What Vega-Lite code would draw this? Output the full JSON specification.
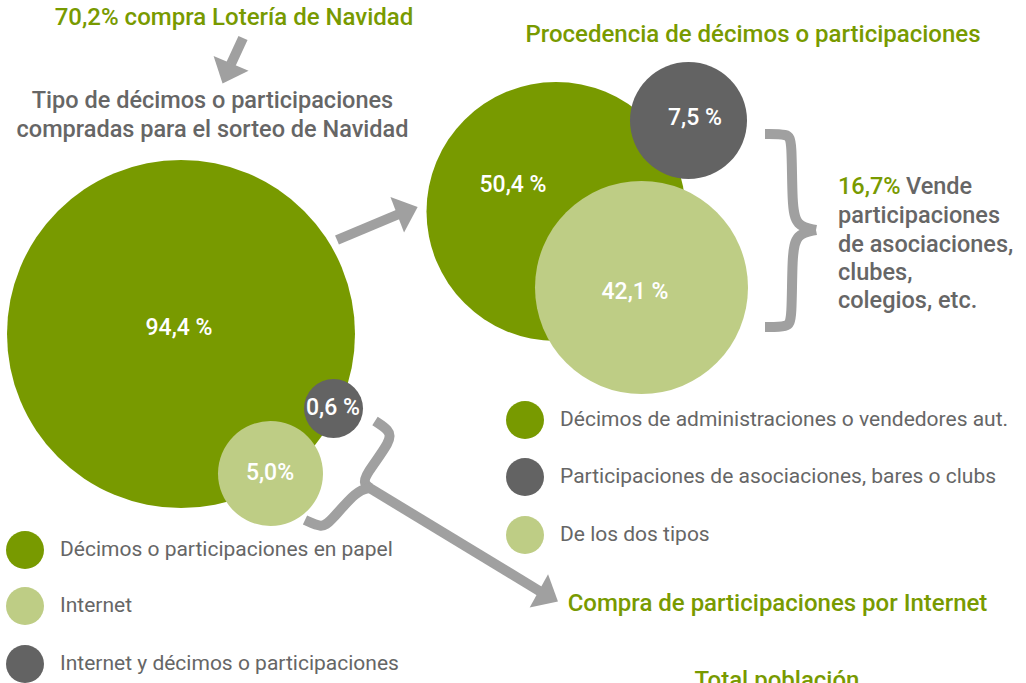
{
  "$schema": "https://vega.github.io/schema/vega-lite/v6.json",
  "width": 1026,
  "height": 683,
  "padding": 0,
  "autosize": {"type": "none"},
  "background": "white",
  "config": {"view": {"stroke": null}, "text": {"font": "Roboto"}},
  "layer": [
    {
      "data": {"values": [
        {"flecha": "título", "x": 243, "y": 38, "x2": 231, "y2": 64},
        {"flecha": "procedencia", "x": 337, "y": 240, "x2": 399, "y2": 214},
        {"flecha": "internet", "x": 368, "y": 487, "x2": 541, "y2": 592}
      ]},
      "mark": {"type": "rule", "color": "#a0a0a0", "strokeWidth": 10, "strokeCap": "butt"},
      "encoding": {
        "x": {"field": "x", "type": "quantitative", "scale": {"domain": [0, 1026], "nice": false, "zero": false}, "axis": null},
        "y": {"field": "y", "type": "quantitative", "scale": {"domain": [0, 683], "nice": false, "zero": false, "reverse": true}, "axis": null},
        "x2": {"field": "x2"},
        "y2": {"field": "y2"}
      }
    },
    {
      "data": {"values": [
        {"tramo": "d1", "orden": 1, "x": 765, "y": 134},
        {"tramo": "d1", "orden": 2, "x": 788, "y": 134},
        {"tramo": "d1", "orden": 3, "x": 792, "y": 140},
        {"tramo": "d1", "orden": 4, "x": 792, "y": 205},
        {"tramo": "d1", "orden": 5, "x": 796, "y": 226},
        {"tramo": "d1", "orden": 6, "x": 816, "y": 230},
        {"tramo": "d2", "orden": 1, "x": 816, "y": 230},
        {"tramo": "d2", "orden": 2, "x": 796, "y": 234},
        {"tramo": "d2", "orden": 3, "x": 792, "y": 255},
        {"tramo": "d2", "orden": 4, "x": 792, "y": 320},
        {"tramo": "d2", "orden": 5, "x": 788, "y": 327},
        {"tramo": "d2", "orden": 6, "x": 765, "y": 327},
        {"tramo": "i1", "orden": 1, "x": 375, "y": 421},
        {"tramo": "i1", "orden": 2, "x": 389, "y": 430},
        {"tramo": "i1", "orden": 3, "x": 392, "y": 440},
        {"tramo": "i1", "orden": 4, "x": 365, "y": 475},
        {"tramo": "i1", "orden": 5, "x": 364, "y": 484},
        {"tramo": "i1", "orden": 6, "x": 370, "y": 488},
        {"tramo": "i2", "orden": 1, "x": 370, "y": 488},
        {"tramo": "i2", "orden": 2, "x": 357, "y": 490},
        {"tramo": "i2", "orden": 3, "x": 330, "y": 522},
        {"tramo": "i2", "orden": 4, "x": 322, "y": 528},
        {"tramo": "i2", "orden": 5, "x": 305, "y": 520}
      ]},
      "mark": {"type": "line", "color": "#a0a0a0", "strokeWidth": 10, "interpolate": "basis", "strokeCap": "butt"},
      "encoding": {
        "x": {"field": "x", "type": "quantitative", "scale": {"domain": [0, 1026], "nice": false, "zero": false}, "axis": null},
        "y": {"field": "y", "type": "quantitative", "scale": {"domain": [0, 683], "nice": false, "zero": false, "reverse": true}, "axis": null},
        "detail": {"field": "tramo"},
        "order": {"field": "orden", "type": "quantitative"}
      }
    },
    {
      "data": {"values": [
        {"flecha": "título", "x": 227, "y": 73, "angulo": 203},
        {"flecha": "procedencia", "x": 407, "y": 211, "angulo": 69},
        {"flecha": "internet", "x": 548, "y": 596, "angulo": 119}
      ]},
      "mark": {"type": "point", "shape": "M0,-0.6L1,0.55L-1,0.55Z", "filled": true, "color": "#a0a0a0", "opacity": 1, "size": 1444, "strokeWidth": 0},
      "encoding": {
        "x": {"field": "x", "type": "quantitative", "scale": {"domain": [0, 1026], "nice": false, "zero": false}, "axis": null},
        "y": {"field": "y", "type": "quantitative", "scale": {"domain": [0, 683], "nice": false, "zero": false, "reverse": true}, "axis": null},
        "angle": {"field": "angulo", "type": "quantitative", "scale": null}
      }
    },
    {
      "data": {"values": [
        {"serie": "Tipo", "categoria": "Décimos o participaciones en papel", "valor": 94.4, "etiqueta": "94,4 %", "x": 181, "y": 334, "r": 174, "lx": 179, "ly": 328},
        {"serie": "Tipo", "categoria": "Internet y décimos o participaciones", "valor": 0.6, "etiqueta": "0,6 %", "x": 333.5, "y": 408.5, "r": 29.5, "lx": 333, "ly": 408},
        {"serie": "Tipo", "categoria": "Internet", "valor": 5.0, "etiqueta": "5,0%", "x": 270.5, "y": 473.5, "r": 52.5, "lx": 270, "ly": 473},
        {"serie": "Procedencia", "categoria": "Décimos de administraciones o vendedores aut.", "valor": 50.4, "etiqueta": "50,4 %", "x": 556, "y": 211.5, "r": 129.5, "lx": 513, "ly": 185},
        {"serie": "Procedencia", "categoria": "Participaciones de asociaciones, bares o clubs", "valor": 7.5, "etiqueta": "7,5 %", "x": 688.5, "y": 120.5, "r": 58.5, "lx": 695, "ly": 118},
        {"serie": "Procedencia", "categoria": "De los dos tipos", "valor": 42.1, "etiqueta": "42,1 %", "x": 641.5, "y": 287.5, "r": 106.5, "lx": 635, "ly": 292}
      ]},
      "layer": [
        {
          "mark": {"type": "point", "shape": "circle", "filled": true, "opacity": 1, "strokeWidth": 0},
          "encoding": {
            "x": {"field": "x", "type": "quantitative", "scale": {"domain": [0, 1026], "nice": false, "zero": false}, "axis": null},
            "y": {"field": "y", "type": "quantitative", "scale": {"domain": [0, 683], "nice": false, "zero": false, "reverse": true}, "axis": null},
            "size": {"field": "r", "type": "quantitative", "scale": {"type": "pow", "exponent": 2, "domain": [0, 200], "range": [0, 160000]}, "legend": null},
            "color": {"field": "categoria", "type": "nominal", "legend": null,
              "scale": {"domain": ["Décimos o participaciones en papel", "Internet", "Internet y décimos o participaciones", "Décimos de administraciones o vendedores aut.", "Participaciones de asociaciones, bares o clubs", "De los dos tipos"],
                        "range": ["#789a00", "#becd85", "#636363", "#789a00", "#636363", "#becd85"]}}
          }
        },
        {
          "mark": {"type": "text", "color": "white", "fontSize": 23, "fontWeight": 500, "align": "center", "baseline": "middle"},
          "encoding": {
            "x": {"field": "lx", "type": "quantitative", "scale": {"domain": [0, 1026], "nice": false, "zero": false}, "axis": null},
            "y": {"field": "ly", "type": "quantitative", "scale": {"domain": [0, 683], "nice": false, "zero": false, "reverse": true}, "axis": null},
            "text": {"field": "etiqueta"}
          }
        }
      ]
    },
    {
      "data": {"values": [
        {"categoria": "Décimos o participaciones en papel", "x": 25, "y": 550},
        {"categoria": "Internet", "x": 25, "y": 606},
        {"categoria": "Internet y décimos o participaciones", "x": 25, "y": 664},
        {"categoria": "Décimos de administraciones o vendedores aut.", "x": 525, "y": 420},
        {"categoria": "Participaciones de asociaciones, bares o clubs", "x": 525, "y": 477},
        {"categoria": "De los dos tipos", "x": 525, "y": 535}
      ]},
      "layer": [
        {
          "mark": {"type": "point", "shape": "circle", "filled": true, "opacity": 1, "strokeWidth": 0, "size": 1444},
          "encoding": {
            "x": {"field": "x", "type": "quantitative", "scale": {"domain": [0, 1026], "nice": false, "zero": false}, "axis": null},
            "y": {"field": "y", "type": "quantitative", "scale": {"domain": [0, 683], "nice": false, "zero": false, "reverse": true}, "axis": null},
            "color": {"field": "categoria", "type": "nominal", "legend": null}
          }
        },
        {
          "mark": {"type": "text", "color": "#666666", "fontSize": 21, "align": "left", "baseline": "middle", "dx": 35},
          "encoding": {
            "x": {"field": "x", "type": "quantitative", "scale": {"domain": [0, 1026], "nice": false, "zero": false}, "axis": null},
            "y": {"field": "y", "type": "quantitative", "scale": {"domain": [0, 683], "nice": false, "zero": false, "reverse": true}, "axis": null},
            "text": {"field": "categoria"}
          }
        }
      ]
    },
    {
      "data": {"values": [
        {"texto": "70,2% compra Lotería de Navidad", "x": 234, "y": 18},
        {"texto": "Procedencia de décimos o participaciones", "x": 753, "y": 35},
        {"texto": "Compra de participaciones por Internet", "x": 777.5, "y": 604},
        {"texto": "Total población", "x": 777, "y": 681}
      ]},
      "mark": {"type": "text", "color": "#789a00", "fontSize": 24, "fontWeight": 500, "align": "center", "baseline": "middle"},
      "encoding": {
        "x": {"field": "x", "type": "quantitative", "scale": {"domain": [0, 1026], "nice": false, "zero": false}, "axis": null},
        "y": {"field": "y", "type": "quantitative", "scale": {"domain": [0, 683], "nice": false, "zero": false, "reverse": true}, "axis": null},
        "text": {"field": "texto"}
      }
    },
    {
      "data": {"values": [
        {"texto": "Tipo de décimos o participaciones", "x": 212.5, "y": 101},
        {"texto": "compradas para el sorteo de Navidad", "x": 212.5, "y": 130}
      ]},
      "mark": {"type": "text", "color": "#666666", "fontSize": 23.5, "fontWeight": 500, "align": "center", "baseline": "middle"},
      "encoding": {
        "x": {"field": "x", "type": "quantitative", "scale": {"domain": [0, 1026], "nice": false, "zero": false}, "axis": null},
        "y": {"field": "y", "type": "quantitative", "scale": {"domain": [0, 683], "nice": false, "zero": false, "reverse": true}, "axis": null},
        "text": {"field": "texto"}
      }
    },
    {
      "data": {"values": [
        {"texto": "16,7%", "tono": "verde", "x": 838, "y": 187},
        {"texto": "Vende", "tono": "gris", "x": 906, "y": 187},
        {"texto": "participaciones", "tono": "gris", "x": 838, "y": 216},
        {"texto": "de asociaciones,", "tono": "gris", "x": 838, "y": 245},
        {"texto": "clubes,", "tono": "gris", "x": 838, "y": 273},
        {"texto": "colegios, etc.", "tono": "gris", "x": 838, "y": 301}
      ]},
      "mark": {"type": "text", "fontSize": 23.5, "fontWeight": 500, "align": "left", "baseline": "middle"},
      "encoding": {
        "x": {"field": "x", "type": "quantitative", "scale": {"domain": [0, 1026], "nice": false, "zero": false}, "axis": null},
        "y": {"field": "y", "type": "quantitative", "scale": {"domain": [0, 683], "nice": false, "zero": false, "reverse": true}, "axis": null},
        "text": {"field": "texto"},
        "fill": {"field": "tono", "type": "nominal", "legend": null, "scale": {"domain": ["verde", "gris"], "range": ["#789a00", "#666666"]}}
      }
    }
  ]
}
